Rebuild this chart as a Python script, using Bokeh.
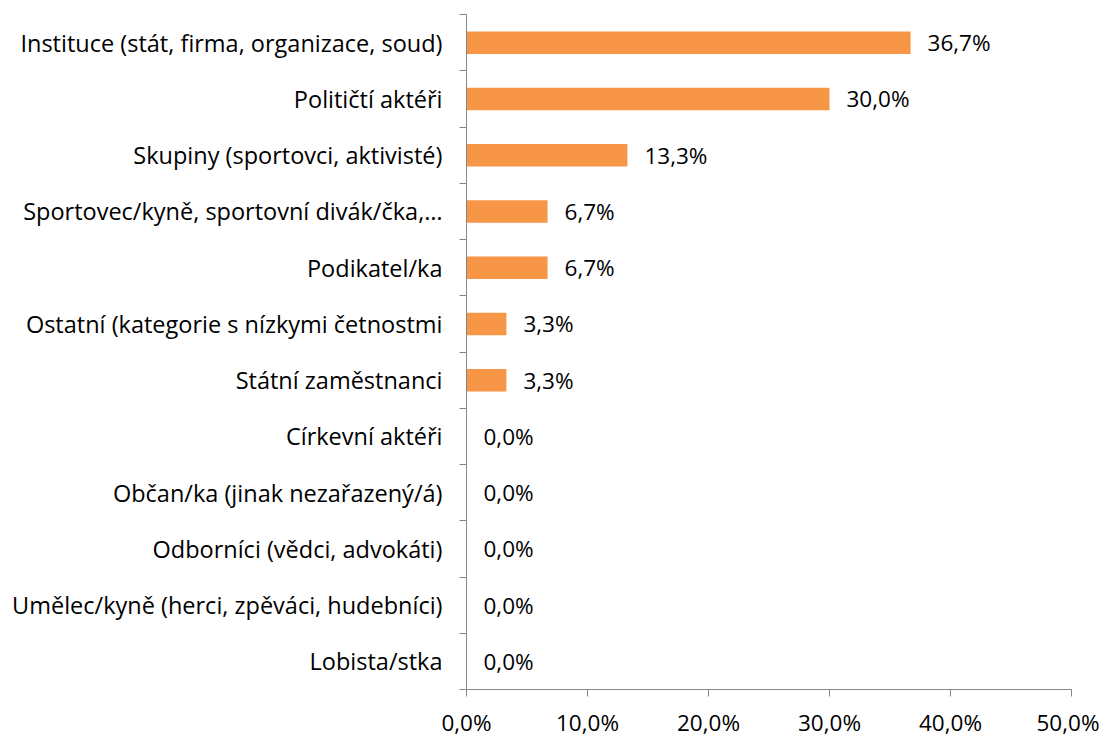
from bokeh.plotting import figure
from bokeh.models import ColumnDataSource, FixedTicker, Range1d
from bokeh.core.properties import value
from bokeh.embed import file_html
from bokeh.resources import INLINE

categories = [
    "Instituce (stát, firma, organizace, soud)",
    "Političtí aktéři",
    "Skupiny (sportovci, aktivisté)",
    "Sportovec/kyně, sportovní divák/čka,…",
    "Podikatel/ka",
    "Ostatní (kategorie s nízkymi četnostmi",
    "Státní zaměstnanci",
    "Církevní aktéři",
    "Občan/ka (jinak nezařazený/á)",
    "Odborníci (vědci, advokáti)",
    "Umělec/kyně (herci, zpěváci, hudebníci)",
    "Lobista/stka",
]
values = [36.7, 30.0, 13.3, 6.7, 6.7, 3.3, 3.3, 0.0, 0.0, 0.0, 0.0, 0.0]
x_ticks = [0, 10, 20, 30, 40, 50]
x_tick_labels = ["0,0%", "10,0%", "20,0%", "30,0%", "40,0%", "50,0%"]

FONT = "Open Sans"
FS = "22.5px"
FS_CAT = "23.5px"
n = len(categories)
ypos = [n - 1 - i for i in range(n)]
labels = [f"{v:.1f}".replace(".", ",") + "%" for v in values]

src = ColumnDataSource(dict(y=ypos, v=values, lab=labels))

p = figure(width=1099, height=740, output_backend="svg", toolbar_location=None,
           x_range=Range1d(0, 50), y_range=Range1d(-0.5, n - 0.5),
           min_border_left=466, min_border_right=28, min_border_top=14, min_border_bottom=48)
p.outline_line_color = None
p.xgrid.grid_line_color = None
p.ygrid.grid_line_color = None

p.hbar(y="y", right="v", left=0, height=0.4, source=src, fill_color="#F79646", line_color=None)
p.text(x="v", y="y", text="lab", source=src, x_offset=17, text_baseline="middle",
       text_font=value(FONT), text_font_size=FS, text_color="#000000")

ax = p.xaxis[0]
ax.ticker = FixedTicker(ticks=x_ticks)
ax.major_label_overrides = {t: l for t, l in zip(x_ticks, x_tick_labels)}
ax.axis_line_color = "#868686"
ax.major_tick_line_color = "#868686"
ax.major_tick_in = 0
ax.major_tick_out = 7
ax.minor_tick_line_color = None
ax.major_label_text_font = FONT
ax.major_label_text_font_size = FS
ax.major_label_text_color = "#000000"
ax.major_label_standoff = 10

ay = p.yaxis[0]
ay.ticker = FixedTicker(ticks=ypos, minor_ticks=[k - 0.5 for k in range(n + 1)])
ay.major_label_overrides = {y: c for y, c in zip(ypos, categories)}
ay.axis_line_color = "#868686"
ay.major_tick_line_color = None
ay.major_tick_in = 0
ay.major_tick_out = 0
ay.minor_tick_line_color = "#868686"
ay.minor_tick_in = 0
ay.minor_tick_out = 7
ay.major_label_text_font = FONT
ay.major_label_text_font_size = FS_CAT
ay.major_label_text_color = "#000000"
ay.major_label_standoff = 17

open("out.html", "w").write(file_html(p, INLINE))
